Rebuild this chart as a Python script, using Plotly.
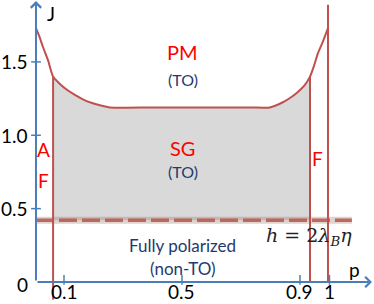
import plotly.graph_objects as go

# ---- data ----
curve_p = [0.005, 0.017, 0.029, 0.046, 0.063, 0.086, 0.110, 0.137, 0.164, 0.195, 0.222, 0.256,
           0.40, 0.55, 0.73, 0.798, 0.842, 0.866, 0.890, 0.914, 0.934, 0.947, 0.961, 0.978, 0.995]
curve_J = [1.73, 1.67, 1.60, 1.51, 1.40, 1.35, 1.31, 1.275, 1.245, 1.22, 1.205, 1.19,
           1.19, 1.19, 1.19, 1.19, 1.225, 1.254, 1.29, 1.336, 1.40, 1.47, 1.56, 1.64, 1.73]
p_AF = 0.063      # AF / SG boundary
p_F = 0.934       # SG / F boundary
p_max = 0.995     # p = 1 line
J_top_right = 1.89
J_h = 0.42        # h = 2 lambda_B eta line
J_bottom_left = -0.12
x_ticks = [0.1, 0.5, 0.9, 1.0]
x_tick_text = ["0.1", "0.5", "0.9", "1"]
y_ticks = [0.5, 1.0, 1.5]
y_tick_text = ["0.5", "1.0", "1.5"]

RED_LINE = "#c0504d"
RED_TXT = "#ff0000"
BLUE_AX = "#4a7ebb"
NAVY = "#1f3a6e"
FONT = "Lato"

fig = go.Figure()

# gray SG region
sg_p = [p for p in curve_p if p_AF <= p <= p_F]
sg_J = [J for p, J in zip(curve_p, curve_J) if p_AF <= p <= p_F]
fill_p = sg_p + [p_F, p_AF, p_AF]
fill_J = sg_J + [J_h, J_h, sg_J[0]]
fig.add_trace(go.Scatter(x=fill_p, y=fill_J, mode="lines", fill="toself",
                         fillcolor="#d9d9d9", line=dict(width=0), hoverinfo="skip"))

# dashed h line (blurred look)
fig.add_trace(go.Scatter(x=[0.005, 1.076], y=[J_h, J_h], mode="lines",
                         line=dict(color="rgba(150,110,100,0.3)", width=7), hoverinfo="skip"))
fig.add_trace(go.Scatter(x=[0.005, 1.076], y=[J_h, J_h], mode="lines",
                         line=dict(color="rgba(185,85,75,0.85)", width=3.5, dash="18px,5px"),
                         hoverinfo="skip"))

# curve
fig.add_trace(go.Scatter(x=curve_p, y=curve_J, mode="lines", line_shape="spline",
                         line=dict(color=RED_LINE, width=2, smoothing=0.6), hoverinfo="skip"))

# vertical boundaries
fig.add_trace(go.Scatter(x=[p_AF, p_AF], y=[curve_J[4], J_bottom_left], mode="lines",
                         line=dict(color=RED_LINE, width=2), hoverinfo="skip"))
fig.add_trace(go.Scatter(x=[p_F, p_F], y=[curve_J[20], 0], mode="lines",
                         line=dict(color=RED_LINE, width=2), hoverinfo="skip"))
fig.add_trace(go.Scatter(x=[p_max, p_max], y=[J_top_right, 0], mode="lines",
                         line=dict(color=RED_LINE, width=2), hoverinfo="skip"))

# tick marks
fig.add_trace(go.Scatter(x=x_ticks, y=[0.015] * len(x_ticks), mode="markers",
                         marker=dict(symbol="line-ns", size=7, line=dict(color=BLUE_AX, width=1.5)),
                         hoverinfo="skip"))
fig.add_trace(go.Scatter(x=[0.005] * len(y_ticks), y=y_ticks, mode="markers",
                         marker=dict(symbol="line-ew", size=7, line=dict(color=BLUE_AX, width=1.5)),
                         hoverinfo="skip"))

ann = []
# axes with arrows
ann.append(dict(x=0.005, y=1.915, ax=0.005, ay=0, xref="x", yref="y", axref="x", ayref="y",
                showarrow=True, arrowhead=4, arrowsize=1, arrowwidth=2, arrowcolor=BLUE_AX, text=""))
ann.append(dict(x=1.144, y=0, ax=0.005, ay=0, xref="x", yref="y", axref="x", ayref="y",
                showarrow=True, arrowhead=4, arrowsize=1, arrowwidth=2, arrowcolor=BLUE_AX, text=""))

TICKF = dict(family=FONT, size=19, color="black")
for v, t in zip(x_ticks, x_tick_text):
    ann.append(dict(x=v, y=-0.066, text=t, showarrow=False, font=TICKF, borderpad=0))
for v, t in zip(y_ticks, y_tick_text):
    ann.append(dict(x=-0.015, y=v, text=t, showarrow=False, xanchor="right", font=TICKF))
ann.append(dict(x=-0.015, y=-0.02, text="0", showarrow=False, xanchor="right", font=TICKF))
ann.append(dict(x=1.086, y=0.085, text="p", showarrow=False, font=TICKF))
ann.append(dict(x=0.055, y=1.83, text="J", showarrow=False, font=TICKF))

def txt(x, y, s, color, size):
    ann.append(dict(x=x, y=y, text=s, showarrow=False, font=dict(family=FONT, size=size, color=color)))

txt(0.503, 1.568, "PM", RED_TXT, 20)
txt(0.503, 1.38, "(TO)", NAVY, 16)
txt(0.503, 0.913, "SG", RED_TXT, 20)
txt(0.503, 0.75, "(TO)", NAVY, 16)
txt(0.032, 0.90, "A", RED_TXT, 19)
txt(0.032, 0.695, "F", RED_TXT, 19)
txt(0.961, 0.845, "F", RED_TXT, 19)
txt(0.503, 0.252, "Fully polarized", NAVY, 17)
txt(0.503, 0.095, "(non-TO)", NAVY, 17)
ann.append(dict(x=0.932, y=0.31, showarrow=False,
                text="<i>h</i> = 2<i>λ</i><sub><i>B</i></sub><i>η</i>",
                font=dict(family="DejaVu Serif", size=19, color="#222222")))

fig.update_layout(
    width=374, height=304, margin=dict(l=0, r=0, t=0, b=0),
    plot_bgcolor="white", paper_bgcolor="white", showlegend=False,
    xaxis=dict(range=[-0.117, 1.151], visible=False, fixedrange=True),
    yaxis=dict(range=[-0.15, 1.922], visible=False, fixedrange=True),
    annotations=ann,
)

fig.write_html("out.html", config={"displayModeBar": False},
               post_script="document.body.style.margin='0';")
